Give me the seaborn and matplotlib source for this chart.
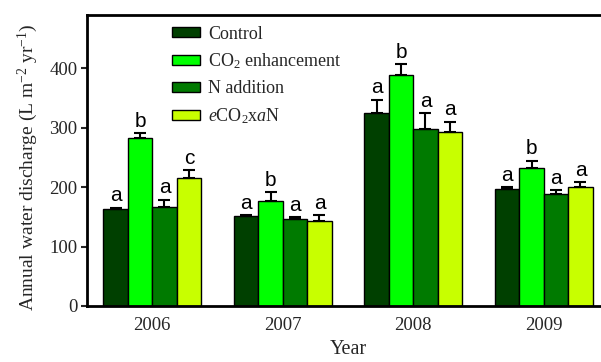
import numpy as np
import pandas as pd
import matplotlib
matplotlib.use("Agg")
import matplotlib.pyplot as plt
import seaborn as sns

years = ["2006", "2007", "2008", "2009"]
treatments = ["Control", "CO$_2$ enhancement", "N addition", "$e$CO$_2$x$a$N"]
control = [163, 151, 325, 196]
co2 = [282, 177, 388, 232]
n_add = [166, 146, 297, 188]
eco2an = [216, 143, 292, 200]
control_err = [2, 2, 22, 4]
co2_err = [9, 14, 18, 12]
n_add_err = [13, 3, 27, 7]
eco2an_err = [12, 10, 18, 8]
control_sig = ["a", "a", "a", "a"]
co2_sig = ["b", "b", "b", "b"]
n_add_sig = ["a", "a", "a", "a"]
eco2an_sig = ["c", "a", "a", "a"]
colors = ["#004000", "#00FF00", "#007A00", "#C8FF00"]

values = [control, co2, n_add, eco2an]
errors = [control_err, co2_err, n_add_err, eco2an_err]
sigs = [control_sig, co2_sig, n_add_sig, eco2an_sig]

rows = []
for t, vals in zip(treatments, values):
    for y, v in zip(years, vals):
        rows.append({"Year": y, "Treatment": t, "Value": v})
df = pd.DataFrame(rows)

sns.set_theme(style="ticks")
plt.rcParams["font.family"] = ["Liberation Serif", "DejaVu Serif"]
plt.rcParams["mathtext.fontset"] = "custom"
plt.rcParams["mathtext.rm"] = "Liberation Serif"
plt.rcParams["mathtext.it"] = "Liberation Serif:italic"
plt.rcParams["mathtext.bf"] = "Liberation Serif:bold"

fig = plt.figure(figsize=(6.01, 3.62), dpi=100)
ax = fig.add_axes([87 / 601, 1 - 306 / 362, 522 / 601, (306 - 14.5) / 362])

sns.barplot(data=df, x="Year", y="Value", hue="Treatment", order=years,
            hue_order=treatments, palette=colors, width=0.75, errorbar=None,
            edgecolor="black", linewidth=1.0, saturation=1, ax=ax)

for cont, errs, sg in zip(ax.containers, errors, sigs):
    for bar, e, s in zip(cont.patches, errs, sg):
        xc = bar.get_x() + bar.get_width() / 2
        h = bar.get_height()
        ax.errorbar(xc, h, yerr=[[0], [e]], fmt="none", ecolor="black",
                    elinewidth=1.5, capsize=4, capthick=1.5, zorder=3)
        ax.text(xc, h + e + 4, s, ha="center", va="bottom", fontsize=15,
                family=["Liberation Sans", "DejaVu Sans"], color="black")

ax.set_xlim(-0.5, 3.5)
ax.set_ylim(0, 490)
ax.set_yticks([0, 100, 200, 300, 400])
ax.tick_params(axis="y", direction="out", length=4, width=1.5, labelsize=13.5, pad=3)
ax.tick_params(axis="x", length=0, labelsize=13.5, pad=8)
ax.set_xlabel("Year", fontsize=14.5, labelpad=4)
ax.set_ylabel("Annual water discharge (L m$^{-2}$ yr$^{-1}$)", fontsize=14)
ax.yaxis.set_label_coords(-0.09, 0.475)
for side in ["left", "bottom", "top"]:
    ax.spines[side].set_linewidth(2)
    ax.spines[side].set_color("black")
ax.spines["right"].set_visible(False)

leg = ax.legend(loc="upper left", bbox_to_anchor=(0.145, 0.993), frameon=False,
                fontsize=13, handlelength=1.55, handleheight=0.45,
                labelspacing=0.5, handletextpad=0.45, borderpad=0)
for h in leg.legend_handles:
    h.set_edgecolor("black")
    h.set_linewidth(1.0)

fig.savefig("out.png", dpi=100)
